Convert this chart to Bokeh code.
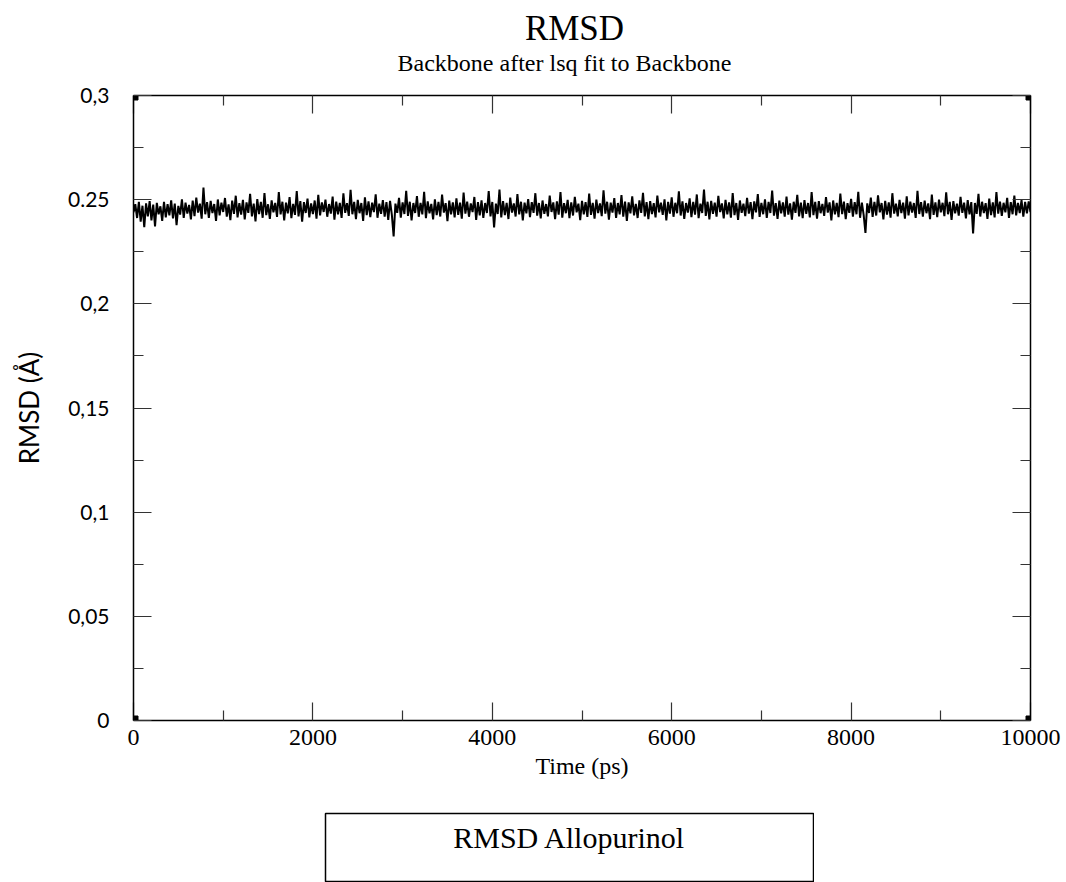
import math
from bokeh.plotting import figure
from bokeh.layouts import column, row
from bokeh.models import Range1d, LinearAxis, FixedTicker, Label, Spacer
from bokeh.embed import file_html
from bokeh.resources import INLINE

# ---------------- data ----------------
rmsd = [
    0.2440, 0.2478, 0.2412, 0.2489, 0.2395, 0.2471, 0.2368, 0.2482, 0.2420, 0.2493, 0.2401, 0.2476, 0.2372, 0.2485, 0.2430, 0.2468, 0.2398, 0.2490, 0.2415, 0.2479,
    0.2425, 0.2497, 0.2410, 0.2481, 0.2378, 0.2470, 0.2428, 0.2502, 0.2412, 0.2486, 0.2433, 0.2475, 0.2405, 0.2496, 0.2421, 0.2510, 0.2438, 0.2481, 0.2409, 0.2558,
    0.2430, 0.2488, 0.2412, 0.2494, 0.2436, 0.2479, 0.2398, 0.2501, 0.2425, 0.2486, 0.2441, 0.2508, 0.2419, 0.2477, 0.2402, 0.2495, 0.2432, 0.2519, 0.2415, 0.2483,
    0.2428, 0.2499, 0.2405, 0.2487, 0.2437, 0.2528, 0.2420, 0.2481, 0.2396, 0.2503, 0.2431, 0.2489, 0.2413, 0.2532, 0.2426, 0.2478, 0.2408, 0.2497, 0.2439, 0.2484,
    0.2417, 0.2536, 0.2429, 0.2490, 0.2401, 0.2486, 0.2434, 0.2512, 0.2411, 0.2480, 0.2427, 0.2541, 0.2420, 0.2493, 0.2394, 0.2488, 0.2436, 0.2505, 0.2415, 0.2482,
    0.2431, 0.2496, 0.2409, 0.2523, 0.2425, 0.2487, 0.2441, 0.2500, 0.2418, 0.2479, 0.2433, 0.2515, 0.2404, 0.2491, 0.2429, 0.2485, 0.2412, 0.2530, 0.2437, 0.2483,
    0.2422, 0.2547, 0.2430, 0.2489, 0.2406, 0.2499, 0.2435, 0.2484, 0.2398, 0.2511, 0.2426, 0.2492, 0.2416, 0.2486, 0.2440, 0.2526, 0.2413, 0.2481, 0.2432, 0.2498,
    0.2419, 0.2488, 0.2403, 0.2494, 0.2428, 0.2323, 0.2481, 0.2437, 0.2509, 0.2414, 0.2487, 0.2431, 0.2543, 0.2422, 0.2490, 0.2400, 0.2484, 0.2436, 0.2517, 0.2418,
    0.2485, 0.2429, 0.2538, 0.2411, 0.2492, 0.2434, 0.2480, 0.2405, 0.2501, 0.2426, 0.2489, 0.2419, 0.2524, 0.2438, 0.2483, 0.2397, 0.2495, 0.2430, 0.2487, 0.2415,
    0.2506, 0.2427, 0.2486, 0.2409, 0.2534, 0.2433, 0.2491, 0.2418, 0.2482, 0.2440, 0.2513, 0.2403, 0.2488, 0.2425, 0.2497, 0.2412, 0.2484, 0.2436, 0.2541, 0.2420,
    0.2489, 0.2367, 0.2481, 0.2431, 0.2548, 0.2415, 0.2493, 0.2426, 0.2485, 0.2407, 0.2510, 0.2438, 0.2482, 0.2419, 0.2527, 0.2429, 0.2490, 0.2401, 0.2486, 0.2434,
    0.2503, 0.2416, 0.2488, 0.2437, 0.2531, 0.2423, 0.2484, 0.2410, 0.2496, 0.2432, 0.2479, 0.2420, 0.2519, 0.2441, 0.2487, 0.2406, 0.2492, 0.2428, 0.2537, 0.2414,
    0.2483, 0.2435, 0.2499, 0.2411, 0.2487, 0.2424, 0.2514, 0.2439, 0.2481, 0.2402, 0.2494, 0.2430, 0.2488, 0.2417, 0.2529, 0.2427, 0.2485, 0.2409, 0.2500, 0.2436,
    0.2482, 0.2421, 0.2545, 0.2433, 0.2490, 0.2404, 0.2486, 0.2438, 0.2507, 0.2413, 0.2484, 0.2429, 0.2522, 0.2418, 0.2491, 0.2398, 0.2487, 0.2434, 0.2516, 0.2425,
    0.2480, 0.2412, 0.2497, 0.2437, 0.2533, 0.2420, 0.2488, 0.2406, 0.2493, 0.2431, 0.2483, 0.2415, 0.2520, 0.2439, 0.2486, 0.2427, 0.2502, 0.2401, 0.2489, 0.2433,
    0.2511, 0.2418, 0.2485, 0.2435, 0.2540, 0.2424, 0.2492, 0.2408, 0.2484, 0.2438, 0.2506, 0.2416, 0.2489, 0.2428, 0.2525, 0.2411, 0.2481, 0.2436, 0.2549, 0.2422,
    0.2490, 0.2405, 0.2494, 0.2432, 0.2486, 0.2419, 0.2518, 0.2440, 0.2482, 0.2410, 0.2499, 0.2429, 0.2487, 0.2414, 0.2532, 0.2426, 0.2484, 0.2403, 0.2496, 0.2437,
    0.2481, 0.2421, 0.2509, 0.2433, 0.2488, 0.2407, 0.2492, 0.2439, 0.2527, 0.2417, 0.2485, 0.2430, 0.2501, 0.2412, 0.2489, 0.2436, 0.2544, 0.2423, 0.2483, 0.2408,
    0.2495, 0.2434, 0.2487, 0.2418, 0.2515, 0.2428, 0.2482, 0.2404, 0.2490, 0.2437, 0.2523, 0.2420, 0.2486, 0.2411, 0.2498, 0.2432, 0.2484, 0.2415, 0.2536, 0.2426,
    0.2489, 0.2409, 0.2493, 0.2435, 0.2480, 0.2422, 0.2512, 0.2438, 0.2487, 0.2401, 0.2496, 0.2429, 0.2485, 0.2416, 0.2529, 0.2431, 0.2491, 0.2406, 0.2483, 0.2437,
    0.2504, 0.2419, 0.2488, 0.2430, 0.2538, 0.2413, 0.2486, 0.2427, 0.2340, 0.2482, 0.2436, 0.2510, 0.2417, 0.2489, 0.2424, 0.2521, 0.2439, 0.2484, 0.2405, 0.2494,
    0.2428, 0.2487, 0.2414, 0.2531, 0.2433, 0.2481, 0.2420, 0.2499, 0.2436, 0.2486, 0.2409, 0.2516, 0.2425, 0.2490, 0.2438, 0.2484, 0.2412, 0.2542, 0.2431, 0.2488,
    0.2418, 0.2495, 0.2435, 0.2482, 0.2406, 0.2524, 0.2427, 0.2487, 0.2416, 0.2500, 0.2439, 0.2485, 0.2421, 0.2535, 0.2430, 0.2489, 0.2403, 0.2493, 0.2434, 0.2481,
    0.2423, 0.2513, 0.2437, 0.2486, 0.2410, 0.2498, 0.2429, 0.2488, 0.2338, 0.2484, 0.2432, 0.2528, 0.2419, 0.2490, 0.2436, 0.2483, 0.2408, 0.2505, 0.2426, 0.2487,
    0.2415, 0.2537, 0.2433, 0.2491, 0.2422, 0.2485, 0.2439, 0.2509, 0.2412, 0.2488, 0.2430, 0.2520, 0.2425, 0.2484, 0.2436, 0.2498, 0.2418, 0.2489, 0.2434, 0.2492, 0.2440,
]
time_step_ps = 20
time_ps = [i * time_step_ps for i in range(len(rmsd))]

x_ticks = [0, 2000, 4000, 6000, 8000, 10000]
x_minor_ticks = [1000, 3000, 5000, 7000, 9000]
y_ticks = [0, 0.05, 0.1, 0.15, 0.2, 0.25, 0.3]
y_minor_ticks = [0.025, 0.075, 0.125, 0.175, 0.225, 0.275]
y_tick_labels = ["0", "0,05", "0,1", "0,15", "0,2", "0.25", "0,3"]

title_text = "RMSD"
subtitle_text = "Backbone after lsq fit to Backbone"
x_label = "Time (ps)"
y_label = "RMSD (Å)"
caption_text = "RMSD Allopurinol"

SERIF = "Liberation Serif"
SANS = "Lato"


def blank_figure(width, height, outline=None):
    f = figure(width=width, height=height, x_range=Range1d(0, 1), y_range=Range1d(0, 1),
               output_backend="svg", toolbar_location=None,
               min_border_left=1, min_border_right=1, min_border_top=1, min_border_bottom=0)
    f.axis.visible = False
    f.grid.visible = False
    f.outline_line_color = outline
    f.outline_line_width = 1.5
    f.background_fill_color = "white"
    f.border_fill_color = "white"
    return f


# ---------------- header (title + subtitle) ----------------
# (its frame is aligned with the main plot's frame, so x is measured from the frame's left)
head = blank_figure(1066, 80)
head.add_layout(Label(x=441, y=52, x_units="screen", y_units="screen", text=title_text,
                      text_font=SERIF, text_font_size="35px", text_align="center",
                      text_baseline="middle", text_color="black"))
head.add_layout(Label(x=431, y=18, x_units="screen", y_units="screen", text=subtitle_text,
                      text_font=SERIF, text_font_size="24px", text_align="center",
                      text_baseline="middle", text_color="black"))

# ---------------- main figure ----------------
p = figure(width=1066, height=732,
           x_range=Range1d(x_ticks[0], x_ticks[-1]),
           y_range=Range1d(y_ticks[0], y_ticks[-1]),
           output_backend="svg", toolbar_location=None,
           min_border_left=133, min_border_right=36,
           min_border_top=15, min_border_bottom=92)
p.background_fill_color = "white"
p.border_fill_color = "white"
p.outline_line_color = None
p.xgrid.visible = False
p.ygrid.visible = False


def style_axis(ax):
    ax.axis_line_color = "black"
    ax.axis_line_width = 1.5
    ax.major_tick_in = 18
    ax.major_tick_out = 0
    ax.minor_tick_in = 10
    ax.minor_tick_out = 0
    ax.major_tick_line_color = "#333333"
    ax.minor_tick_line_color = "#333333"
    ax.major_tick_line_width = 1.2
    ax.minor_tick_line_width = 1.2


xt = FixedTicker(ticks=x_ticks, minor_ticks=x_minor_ticks)
yt = FixedTicker(ticks=y_ticks, minor_ticks=y_minor_ticks)

xa = p.xaxis[0]
xa.ticker = xt
style_axis(xa)
xa.major_label_text_font = SERIF
xa.major_label_text_font_size = "24px"
xa.major_label_text_color = "black"
xa.major_label_standoff = 9
xa.axis_label = x_label
xa.axis_label_text_font = SERIF
xa.axis_label_text_font_size = "24px"
xa.axis_label_text_font_style = "normal"
xa.axis_label_text_color = "black"
xa.axis_label_standoff = 5

ya = p.yaxis[0]
ya.ticker = yt
style_axis(ya)
ya.major_label_overrides = {v: s for v, s in zip(y_ticks, y_tick_labels)}
ya.major_label_text_font = SANS
ya.major_label_text_font_size = "21px"
ya.major_label_text_color = "black"
ya.major_label_standoff = 24
ya.axis_label = y_label
ya.axis_label_text_font = SANS
ya.axis_label_text_font_size = "26px"
ya.axis_label_text_font_style = "normal"
ya.axis_label_text_color = "black"
ya.axis_label_standoff = 20

top = LinearAxis(ticker=xt)
style_axis(top)
top.major_label_text_color = None
top.major_label_text_font_size = "1px"
top.major_label_standoff = 0
p.add_layout(top, "above")

right = LinearAxis(ticker=yt)
style_axis(right)
right.major_label_text_color = None
right.major_label_text_font_size = "1px"
right.major_label_standoff = 0
p.add_layout(right, "right")

# data line
p.line(time_ps, rmsd, line_color="black", line_width=2)

# corner markers
p.scatter([x_ticks[0], x_ticks[-1], x_ticks[0], x_ticks[-1]],
          [y_ticks[0], y_ticks[0], y_ticks[-1], y_ticks[-1]],
          marker="square", size=9, color="black")

# ---------------- caption box ----------------
cap = blank_figure(490, 70, outline="black")
cap.add_layout(Label(x=244, y=45, x_units="screen", y_units="screen", text=caption_text,
                     text_font=SERIF, text_font_size="30px", text_align="center",
                     text_baseline="middle", text_color="black"))

layout = column(head, p, row(Spacer(width=324, height=70), cap), spacing=0)

open("out.html", "w").write(file_html(layout, INLINE))
